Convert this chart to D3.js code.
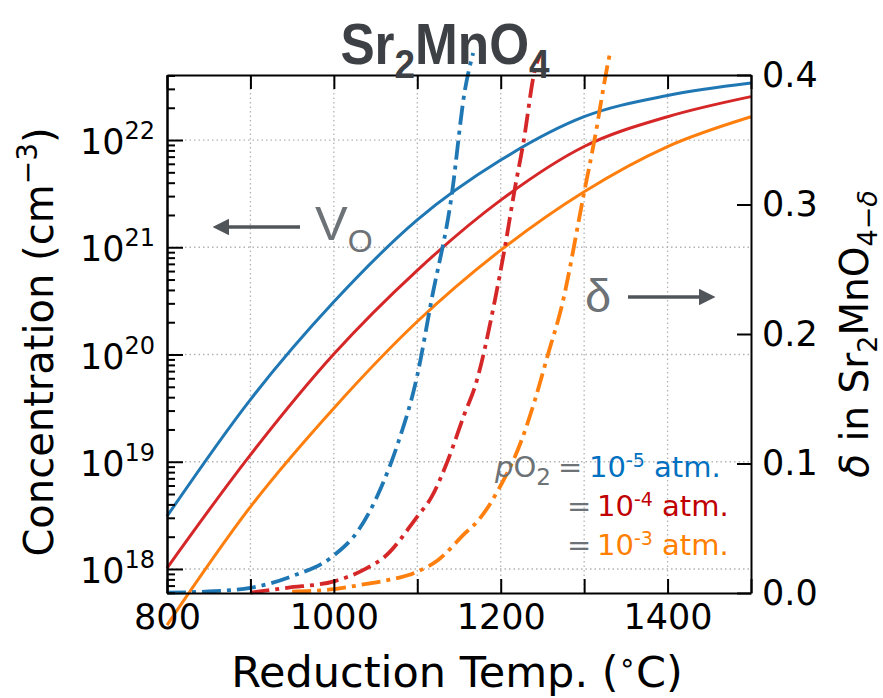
<!DOCTYPE html>
<html>
<head>
<meta charset="UTF-8">
<title>Sr2MnO4</title>
<script src="https://cdnjs.cloudflare.com/ajax/libs/d3/7.8.5/d3.min.js"></script>
<style>
  body { margin: 0; background: #fff; }
  text { font-family: "DejaVu Sans", sans-serif; fill: #000; }
  .grid line { stroke: #b3b3b3; stroke-width: 1.3; stroke-dasharray: 1.5,3; }
  .axis path { stroke: #000; stroke-width: 2; }
  .axis line { stroke: #000; stroke-width: 2; }
  .axis text { font-size: 35px; font-family: "DejaVu Sans", sans-serif; }
  .note { font-family: "Liberation Sans", Arial, sans-serif; }
</style>
</head>
<body>
<svg id="chart" width="883" height="698"></svg>
<script>
// temperatures (deg C) for the vacancy concentration curves
const temps = [800, 900, 1000, 1100, 1200, 1300, 1400, 1500];

// V_O concentration (cm^-3), one array per pO2
const voConc5 = [3.1e18, 3.8e19, 3.1e20, 1.8e21, 6.5e21, 1.65e22, 2.6e22, 3.4e22];
const voConc4 = [1.02e18, 1.16e19, 1.01e20, 6.1e20, 2.75e21, 8.7e21, 1.65e22, 2.54e22];
const voConc3 = [3.0e17, 3.8e18, 3.16e19, 2.03e20, 9.4e20, 3.3e21, 8.7e21, 1.65e22];

// delta in Sr2MnO4-delta, with their own temperatures
const deltaTemps5 = [800, 850, 900, 950, 1000, 1030, 1057, 1077, 1100, 1117, 1141, 1157, 1167];
const delta5 = [0.0003, 0.0012, 0.004, 0.013, 0.029, 0.049, 0.082, 0.116, 0.168, 0.226, 0.306, 0.388, 0.417];
const deltaTemps4 = [900, 944, 1000, 1039, 1061, 1100, 1117, 1137, 1157, 1169, 1193, 1205, 1217, 1227, 1241, 1248];
const delta4 = [0.0003, 0.004, 0.009, 0.019, 0.028, 0.059, 0.074, 0.103, 0.139, 0.159, 0.226, 0.267, 0.3125, 0.347, 0.404, 0.417];
const deltaTemps3 = [950, 1000, 1039, 1061, 1100, 1125, 1157, 1173, 1197, 1225, 1241, 1257, 1273, 1299, 1313, 1327, 1331];
const delta3 = [0.001, 0.003, 0.007, 0.0095, 0.0164, 0.0255, 0.046, 0.056, 0.0795, 0.118, 0.149, 0.185, 0.221, 0.306, 0.352, 0.404, 0.417];

// axis ticks
const xTicks = [800, 900, 1000, 1100, 1200, 1300, 1400, 1500];
const concExponents = [18, 19, 20, 21, 22];
const deltaTicks = [0.0, 0.1, 0.2, 0.3, 0.4];

const seriesColors = ["#1f77b4", "#d62728", "#ff7f0e"];

const margin = { top: 75, left: 167 };
const w = 584;
const h = 518;

const svg = d3.select("#chart");
const g = svg.append("g").attr("transform", "translate(" + margin.left + "," + margin.top + ")");

const x = d3.scaleLinear().domain([800, 1500]).range([0, w]);
const yConc = d3.scaleLog().domain([5.97e17, 4.04e22]).range([h, 0]);
const yDelta = d3.scaleLinear().domain([0, 0.4]).range([h, 0]);

const majors = concExponents.map(e => Math.pow(10, e));
const minors = [];
for (let e = 17; e <= 22; e++) {
    for (let m = 2; m <= 9; m++) {
        const v = m * Math.pow(10, e);
        if (v >= yConc.domain()[0] && v <= yConc.domain()[1]) minors.push(v);
    }
}

// grid
const grid = g.append("g").attr("class", "grid");
grid.selectAll(".gx")
    .data(xTicks.slice(1, -1))
    .enter().append("line")
    .attr("x1", d => x(d)).attr("x2", d => x(d))
    .attr("y1", 0).attr("y2", h);
grid.selectAll(".gy")
    .data(majors)
    .enter().append("line")
    .attr("x1", 0).attr("x2", w)
    .attr("y1", d => yConc(d)).attr("y2", d => yConc(d));

// solid lines: V_O concentration
const concLine = d3.line()
    .x((d, i) => x(temps[i]))
    .y(d => yConc(d))
    .curve(d3.curveMonotoneX);

[voConc3, voConc4, voConc5].forEach((s, i) => {
    g.append("path")
        .datum(s)
        .attr("fill", "none")
        .attr("stroke", seriesColors[2 - i])
        .attr("stroke-width", 3)
        .attr("d", concLine);
});

// dash-dot lines: delta
const deltaSets = [
    { t: deltaTemps3, v: delta3, c: seriesColors[2] },
    { t: deltaTemps4, v: delta4, c: seriesColors[1] },
    { t: deltaTemps5, v: delta5, c: seriesColors[0] }
];
deltaSets.forEach(s => {
    const line = d3.line()
        .x((d, i) => x(s.t[i]))
        .y(d => yDelta(d))
        .curve(d3.curveMonotoneX);
    g.append("path")
        .datum(s.v)
        .attr("fill", "none")
        .attr("stroke", s.c)
        .attr("stroke-width", 3.8)
        .attr("stroke-dasharray", "19,6,4,6")
        .attr("d", line);
});

// axes
const bottomAxis = d3.axisBottom(x).tickValues(xTicks)
    .tickSizeInner(-14).tickSizeOuter(0).tickPadding(11)
    .tickFormat(d => d % 200 === 0 && d < 1500 ? d : "");
g.append("g").attr("class", "axis").attr("transform", "translate(0," + h + ")").call(bottomAxis);

const topAxis = d3.axisTop(x).tickValues(xTicks)
    .tickSizeInner(-14).tickSizeOuter(0).tickFormat("");
g.append("g").attr("class", "axis").call(topAxis);

const leftMajor = d3.axisLeft(yConc).tickValues(majors)
    .tickSizeInner(-16).tickSizeOuter(0).tickFormat("");
g.append("g").attr("class", "axis").call(leftMajor);
const leftMinor = d3.axisLeft(yConc).tickValues(minors)
    .tickSizeInner(-8).tickSizeOuter(0).tickFormat("");
g.append("g").attr("class", "axis minor").call(leftMinor)
    .selectAll("line").attr("stroke-width", 1.6);

const rightAxis = d3.axisRight(yDelta).tickValues(deltaTicks)
    .tickSizeInner(-14).tickSizeOuter(0).tickPadding(11)
    .tickFormat(d3.format(".1f"));
g.append("g").attr("class", "axis").attr("transform", "translate(" + w + ",0)").call(rightAxis);

// log labels with superscripts
const logLabels = g.append("g");
concExponents.forEach(e => {
    const t = logLabels.append("text")
        .attr("x", -12)
        .attr("y", yConc(Math.pow(10, e)) + 14)
        .attr("text-anchor", "end")
        .style("font-size", "35px");
    t.append("tspan").text("10");
    t.append("tspan").attr("dy", -15).style("font-size", "24px").text(e);
});

// axis titles
svg.append("text")
    .attr("transform", "translate(53,342) rotate(-90)")
    .attr("text-anchor", "middle")
    .style("font-size", "40px")
    .call(t => {
        t.append("tspan").text("Concentration (cm");
        t.append("tspan").attr("dy", -16).style("font-size", "28px").text("\u22123");
        t.append("tspan").attr("dy", 16).text(")");
    });

svg.append("text")
    .attr("x", 457)
    .attr("y", 687)
    .attr("text-anchor", "middle")
    .style("font-size", "43px")
    .call(t => {
        t.append("tspan").text("Reduction Temp. (");
        t.append("tspan").attr("dy", -15).style("font-size", "28px").text("\u2218");
        t.append("tspan").attr("dy", 15).text("C)");
    });

svg.append("text")
    .attr("transform", "translate(868,334) rotate(-90)")
    .attr("text-anchor", "middle")
    .style("font-size", "39px")
    .call(t => {
        t.append("tspan").style("font-style", "italic").text("\u03b4");
        t.append("tspan").text(" in Sr");
        t.append("tspan").attr("dy", 9).style("font-size", "27px").text("2");
        t.append("tspan").attr("dy", -9).text("MnO");
        t.append("tspan").attr("dy", 9).style("font-size", "27px").text("4\u2212");
        t.append("tspan").style("font-size", "27px").style("font-style", "italic").text("\u03b4");
    });

// title (squeezed horizontally to look like a narrow bold face)
svg.append("text")
    .attr("transform", "translate(445,64) scale(0.9,1)")
    .attr("text-anchor", "middle")
    .style("font-family", "'Liberation Sans Narrow', 'Arial Narrow', 'Liberation Sans', sans-serif")
    .style("font-weight", "bold")
    .style("font-size", "57px")
    .style("fill", "#3d4045")
    .call(t => {
        t.append("tspan").text("Sr");
        t.append("tspan").attr("dy", 14).style("font-size", "41px").text("2");
        t.append("tspan").attr("dy", -14).text("MnO");
        t.append("tspan").attr("dy", 14).style("font-size", "41px").text("4");
    });

// annotations
const noteGray = "#6d7276";
const arrowGray = "#50555a";
svg.append("defs").append("marker")
    .attr("id", "head")
    .attr("viewBox", "0 0 10 10")
    .attr("refX", 0).attr("refY", 5)
    .attr("markerWidth", 5).attr("markerHeight", 5)
    .attr("markerUnits", "strokeWidth")
    .attr("orient", "auto")
    .append("path").attr("d", "M0,0 L10,5 L0,10 z").attr("fill", arrowGray);

svg.append("line")
    .attr("x1", 300).attr("y1", 227).attr("x2", 229).attr("y2", 227)
    .attr("stroke", arrowGray).attr("stroke-width", 3.3)
    .attr("marker-end", "url(#head)");
svg.append("text").attr("class", "note")
    .attr("x", 315).attr("y", 240)
    .style("font-size", "49px").style("fill", noteGray)
    .call(t => {
        t.append("tspan").text("V");
        t.append("tspan").attr("dy", 12).style("font-size", "32px").text("O");
    });

svg.append("text").attr("class", "note")
    .attr("x", 585).attr("y", 312)
    .style("font-size", "47px").style("fill", noteGray)
    .text("\u03b4");
svg.append("line")
    .attr("x1", 628).attr("y1", 297).attr("x2", 699).attr("y2", 297)
    .attr("stroke", arrowGray).attr("stroke-width", 3.3)
    .attr("marker-end", "url(#head)");

// pO2 legend
const legend = svg.append("g").attr("class", "note").style("font-size", "29px");
const legendRows = [
    { y: 477, eqX: 558, numX: 589, exp: "-5", color: "#0070c0" },
    { y: 516, eqX: 567, numX: 597, exp: "-4", color: "#c00000" },
    { y: 555, eqX: 567, numX: 597, exp: "-3", color: "#ff8000" }
];
legend.append("text").attr("x", 495).attr("y", 477).style("fill", noteGray)
    .call(t => {
        t.append("tspan").style("font-style", "italic").text("p");
        t.append("tspan").text("O");
        t.append("tspan").attr("dy", 8).style("font-size", "23px").text("2");
    });
legendRows.forEach(r => {
    legend.append("text").attr("x", r.eqX).attr("y", r.y).style("fill", noteGray).text("=");
    legend.append("text").attr("x", r.numX).attr("y", r.y).style("fill", r.color)
        .call(t => {
            t.append("tspan").text("10");
            t.append("tspan").attr("dy", -10).style("font-size", "19px").text(r.exp);
            t.append("tspan").attr("dy", 10).text(" atm.");
        });
});
</script>
</body>
</html>
